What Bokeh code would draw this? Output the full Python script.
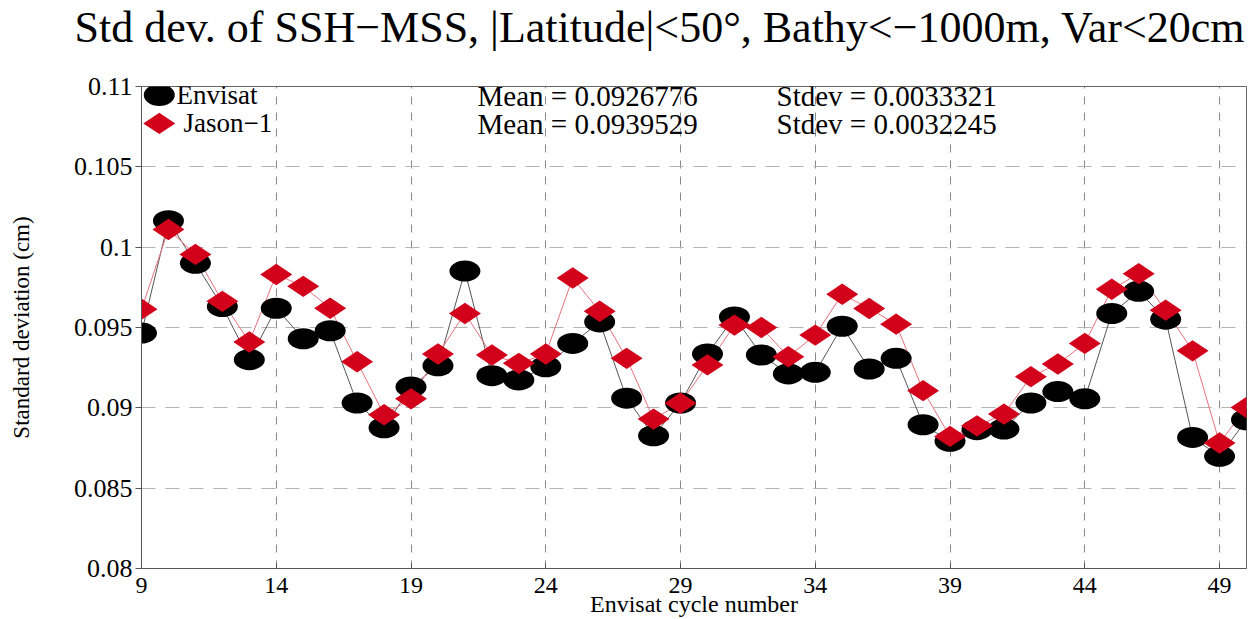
import math
from bokeh.plotting import figure
from bokeh.models import Label, FixedTicker, Range1d, Title
from bokeh.embed import file_html
from bokeh.resources import INLINE

# ---------------- data ----------------
cycles = list(range(9, 51))
envisat = [0.09465, 0.10165, 0.0990, 0.0963, 0.0930, 0.0962, 0.0943, 0.0948,
           0.0903, 0.08876, 0.0913, 0.09262, 0.09851, 0.0920, 0.09174, 0.09256,
           0.09401, 0.09535, 0.0906, 0.08826, 0.0903, 0.09335, 0.09566, 0.09329,
           0.09211, 0.09221, 0.09508, 0.09242, 0.09308, 0.08895, 0.08792, 0.08864,
           0.08868, 0.0903, 0.09101, 0.09056, 0.09587, 0.09725, 0.09552, 0.08816,
           0.08698, 0.08926]
jason = [0.09614, 0.1011, 0.09955, 0.09663, 0.0941, 0.0983, 0.09756, 0.0962,
         0.09287, 0.08957, 0.09056, 0.09335, 0.09587, 0.09329, 0.09277, 0.09335,
         0.09808, 0.09601, 0.09308, 0.0893, 0.09029, 0.09267, 0.09515, 0.0950,
         0.09318, 0.09453, 0.09707, 0.09618, 0.09521, 0.09107, 0.08822, 0.08888,
         0.08961, 0.09194, 0.09273, 0.09401, 0.09738, 0.09835, 0.09608, 0.09355,
         0.08781, 0.09002]
series_names = ["Envisat", "Jason\u22121"]
x_ticks = [9, 14, 19, 24, 29, 34, 39, 44, 49]
y_ticks = [0.08, 0.085, 0.09, 0.095, 0.1, 0.105, 0.11]
y_tick_labels = ["0.08", "0.085", "0.09", "0.095", "0.1", "0.105", "0.11"]
means = ["Mean = 0.0926776", "Mean = 0.0939529"]
stdevs = ["Stdev = 0.0033321", "Stdev = 0.0032245"]
title_text = "Std dev. of SSH\u2212MSS, |Latitude|<50\u00b0, Bathy<\u22121000m, Var<20cm"
x_label = "Envisat cycle number"
y_label = "Standard deviation (cm)"

X0, X1 = 9, 50
Y0, Y1 = 0.08, 0.11

FONT = "Liberation Serif"
RED = "#d2001a"

p = figure(width=1260, height=619, output_backend="svg", toolbar_location=None,
           x_range=Range1d(X0, X1), y_range=Range1d(Y0, Y1),
           min_border_left=141, min_border_right=14, min_border_top=86,
           min_border_bottom=50)
p.title = None
p.background_fill_color = "white"
p.border_fill_color = "white"
p.outline_line_color = "#666666"
p.outline_line_width = 1

# title: a thin spacer next to the frame, then the real title further out
p.add_layout(Title(text=" ", text_font=FONT, text_font_size="10px", standoff=22), "above")
p.add_layout(Title(text=title_text, text_font=FONT, text_font_size="44px",
                   text_font_style="normal", text_color="black", align="left",
                   offset=-67, vertical_align="bottom", standoff=0), "above")

# grids
p.xgrid.ticker = FixedTicker(ticks=x_ticks)
p.ygrid.ticker = FixedTicker(ticks=y_ticks)
p.xgrid.grid_line_color = "#888888"
p.xgrid.grid_line_dash = "8 8"
p.xgrid.grid_line_width = 1
p.ygrid.grid_line_color = "#b4b4b4"
p.ygrid.grid_line_dash = "14 10"
p.ygrid.grid_line_width = 1

# axes
p.xaxis.ticker = FixedTicker(ticks=x_ticks)
p.yaxis.ticker = FixedTicker(ticks=y_ticks)
p.yaxis.major_label_overrides = {t: l for t, l in zip(y_ticks, y_tick_labels)}
for ax in (p.xaxis, p.yaxis):
    ax.axis_line_color = "#555555"
    ax.major_tick_line_color = "#555555"
    ax.minor_tick_line_color = None
    ax.major_label_text_font = FONT
    ax.major_label_text_color = "black"
    ax.axis_label_text_font = FONT
    ax.axis_label_text_font_style = "normal"
    ax.axis_label_text_color = "black"
p.xaxis.major_tick_in = 5
p.xaxis.major_tick_out = 0
p.xaxis.major_label_standoff = 9
p.xaxis.major_label_text_font_size = "24px"
p.xaxis.axis_label = x_label
p.xaxis.axis_label_text_font_size = "24px"
p.xaxis.axis_label_standoff = -5
p.yaxis.major_tick_in = 0
p.yaxis.major_tick_out = 6
p.yaxis.major_label_standoff = 3
p.yaxis.major_label_text_font_size = "26px"
p.yaxis.axis_label = y_label
p.yaxis.axis_label_text_font_size = "23px"
p.yaxis.axis_label_standoff = 37

# series
p.line(cycles, envisat, line_color="#555555", line_width=1)
p.line(cycles, jason, line_color="#e8707c", line_width=1)
p.ellipse(x=cycles, y=envisat, width=31, height=21, width_units="screen",
          height_units="screen", fill_color="black", line_color=None)
p.scatter(x=cycles, y=jason, marker="diamond", size=32, angle=math.pi / 2,
          fill_color=RED, line_color=None)

# legend swatches (placed relative to the plot range)
p.ellipse(x=[X0 + 0.66], y=[Y1 - 0.00053], width=31, height=22, width_units="screen",
          height_units="screen", fill_color="black", line_color=None)
p.scatter(x=[X0 + 0.66], y=[Y1 - 0.0023], marker="diamond", size=32, angle=math.pi / 2,
          fill_color=RED, line_color=None)

def lab(x, y, text, size, align="left"):
    p.add_layout(Label(x=x, y=y, x_units="screen", y_units="screen", text=text,
                       text_font=FONT, text_font_size=size, text_color="black",
                       text_align=align, text_baseline="alphabetic"))

# legend text
lab(35, 474, series_names[0], "27px")
lab(42, 446, series_names[1], "27px")
# stats
lab(336, 473, means[0], "29px")
lab(336, 445, means[1], "29px")
lab(635, 473, stdevs[0], "29px")
lab(635, 445, stdevs[1], "29px")

open("out.html", "w").write(file_html(p, INLINE))
